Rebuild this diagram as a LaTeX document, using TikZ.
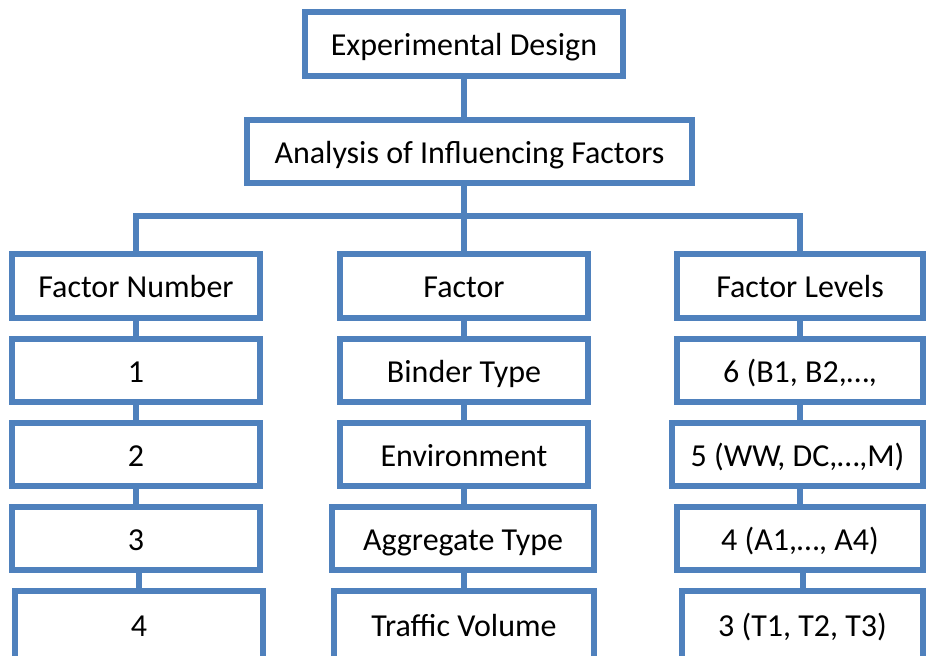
\documentclass[tikz,border=0pt]{standalone}
\usepackage{fontspec}
\setmainfont{Carlito}
\definecolor{boxblue}{RGB}{79,129,189}
\begin{document}
\begin{tikzpicture}[x=0.75pt,y=-0.75pt,
  box/.style={draw=boxblue, line width=4.5pt, fill=white, inner sep=0pt, outer sep=0pt,
    minimum height=47.25pt, text height=18.75pt, text depth=1.5pt,
    font=\fontsize{24pt}{28pt}\selectfont},
  lastrow/.style={minimum height=60pt, text depth=10.5pt},
  link/.style={draw=boxblue, line width=4.5pt}]
\useasboundingbox (0,0) rectangle (927,656);
\clip (0,0) rectangle (927,656);
\fill[white] (0,0) rectangle (927,656);
% nodes
\node[box, minimum width=238.5pt, minimum height=48pt] (top) at (464,44) {Experimental Design};
\node[box, minimum width=333.75pt] (ana) at (469.5,151.5) {Analysis of Influencing Factors};
\node[box, minimum width=186pt, minimum height=48pt] (fn) at (136,286) {Factor Number};
\node[box, minimum width=186pt] (n1) at (136,370.5) {1};
\node[box, minimum width=186pt] (n2) at (136,454.5) {2};
\node[box, minimum width=186pt] (n3) at (136,538.5) {3};
\node[box, lastrow, minimum width=186pt] (n4) at (139,631) {4};
\node[box, minimum width=186pt, minimum height=48pt] (f) at (464,286) {Factor};
\node[box, minimum width=186pt] (bt) at (464,370.5) {Binder Type};
\node[box, minimum width=186pt] (env) at (464,454.5) {Environment};
\node[box, minimum width=196.5pt] (agg) at (463,538.5) {Aggregate Type};
\node[box, lastrow, minimum width=195pt] (tv) at (464,631) {Traffic Volume};
\node[box, minimum width=184.5pt, minimum height=48pt] (fl) at (800,286) {Factor Levels};
\node[box, minimum width=184.5pt] (l6) at (800,370.5) {6 (B1, B2,…,};
\node[box, minimum width=188.25pt] (l5) at (797.5,454.5) {5 (WW, DC,…,M)};
\node[box, minimum width=184.5pt] (l4) at (800,538.5) {4 (A1,…, A4)};
\node[box, lastrow, minimum width=180.75pt] (l3) at (802.5,631) {3 (T1, T2, T3)};
% connectors
\coordinate (bar) at (464,216);
\draw[link] (top.south) -- (top.south |- ana.north);
\draw[link] (ana.south -| bar) -- (bar);
\draw[link] (fn.north) -- (fn.north |- bar) -- (fl.north |- bar) -- (fl.north);
\draw[link] (f.north) -- (f.north |- bar);
\draw[link] (fn.south) -- (n1.north);
\draw[link] (n1.south) -- (n2.north);
\draw[link] (n2.south) -- (n3.north);
\draw[link] (n4.north) -- (n4.north |- n3.south);
\draw[link] (f.south) -- (bt.north);
\draw[link] (bt.south) -- (env.north);
\draw[link] (env.south) -- (env.south |- agg.north);
\draw[link] (tv.north) -- (tv.north |- agg.south);
\draw[link] (fl.south) -- (l6.north);
\draw[link] (l6.south) -- (l6.south |- l5.north);
\draw[link] (l4.north) -- (l4.north |- l5.south);
\draw[link] (l3.north) -- (l3.north |- l4.south);
\end{tikzpicture}
\end{document}
